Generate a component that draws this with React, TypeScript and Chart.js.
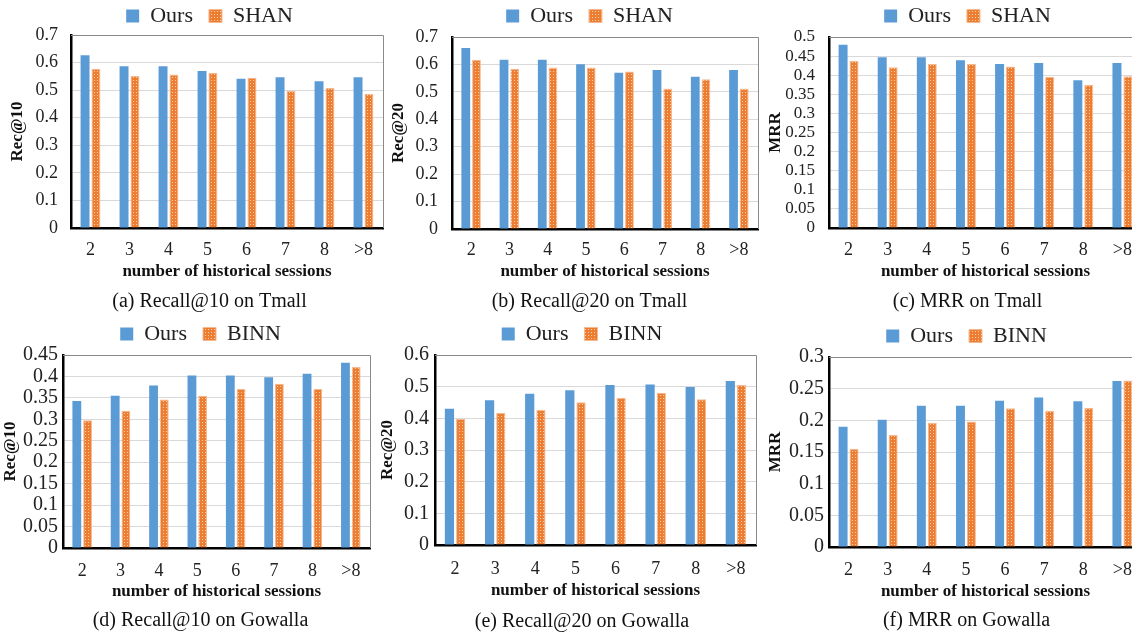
import React, { useEffect, useRef } from 'react';
import { Chart, registerables } from 'chart.js';

Chart.register(...registerables);
Chart.defaults.font.family = "'Liberation Serif', 'Times New Roman', serif";
Chart.defaults.color = '#222';

// ---- data ----
const categories = ['2', '3', '4', '5', '6', '7', '8', '>8'];
const xTitle = 'number of historical sessions';

const tmallRec10Ours = [0.627, 0.587, 0.587, 0.569, 0.541, 0.547, 0.532, 0.547];
const tmallRec10Shan = [0.578, 0.551, 0.557, 0.563, 0.545, 0.497, 0.508, 0.486];
const tmallRec20Ours = [0.66, 0.617, 0.617, 0.601, 0.57, 0.58, 0.555, 0.58];
const tmallRec20Shan = [0.617, 0.584, 0.589, 0.589, 0.574, 0.512, 0.546, 0.512];
const tmallMrrOurs = [0.48, 0.447, 0.447, 0.439, 0.429, 0.432, 0.387, 0.432];
const tmallMrrShan = [0.437, 0.421, 0.429, 0.429, 0.423, 0.395, 0.375, 0.397];
const gowallaRec10Ours = [0.343, 0.355, 0.379, 0.402, 0.402, 0.398, 0.406, 0.432];
const gowallaRec10Binn = [0.298, 0.32, 0.346, 0.355, 0.371, 0.383, 0.371, 0.422];
const gowallaRec20Ours = [0.43, 0.457, 0.478, 0.489, 0.505, 0.507, 0.499, 0.518];
const gowallaRec20Binn = [0.398, 0.417, 0.427, 0.451, 0.465, 0.481, 0.46, 0.505];
const gowallaMrrOurs = [0.19, 0.201, 0.223, 0.223, 0.231, 0.236, 0.23, 0.262];
const gowallaMrrBinn = [0.155, 0.177, 0.196, 0.198, 0.219, 0.215, 0.22, 0.263];

// ---- layout / panel settings ----
const panels = [
  { caption: '(a) Recall@10 on Tmall', yTitle: 'Rec@10', base: 'SHAN', ours: tmallRec10Ours, other: tmallRec10Shan, max: 0.7, step: 0.1,
    L: 0, T: -11, W: 419, top: 35, bottom: 226, xAxisH: 54.2, xTickPad: 11, capPad: 7.8, yAxisW: 71, yTitlePad: 7, yTickPad: 13, rightW: 36, yTickSize: 18 },
  { caption: '(b) Recall@20 on Tmall', yTitle: 'Rec@20', base: 'SHAN', ours: tmallRec20Ours, other: tmallRec20Shan, max: 0.7, step: 0.1,
    L: 381, T: -11, W: 417, top: 40, bottom: 227, xAxisH: 53.2, xTickPad: 10, capPad: 7.8, yAxisW: 71, yTitlePad: 7, yTickPad: 14, rightW: 40, yTickSize: 18 },
  { caption: '(c) MRR on Tmall', yTitle: 'MRR', base: 'SHAN', ours: tmallMrrOurs, other: tmallMrrShan, max: 0.5, step: 0.05,
    L: 758, T: -11, W: 419, top: 39, bottom: 226, xAxisH: 54.2, xTickPad: 11, capPad: 7.8, yAxisW: 71, yTitlePad: 7, yTickPad: 14, rightW: 35, yTickSize: 17 },
  { caption: '(d) Recall@10 on Gowalla', yTitle: 'Rec@10', base: 'BINN', ours: gowallaRec10Ours, other: gowallaRec10Binn, max: 0.45, step: 0.05,
    L: 0, T: 307, W: 401, top: 358, bottom: 546, xAxisH: 54.2, xTickPad: 12, capPad: 6.8, yAxisW: 63, yTitlePad: 0, yTickPad: 5, rightW: 31, yTickSize: 20 },
  { caption: '(e) Recall@20 on Gowalla', yTitle: 'Rec@20', base: 'BINN', ours: gowallaRec20Ours, other: gowallaRec20Binn, max: 0.6, step: 0.1,
    L: 377, T: 307, W: 410, top: 357, bottom: 543, xAxisH: 56.2, xTickPad: 13, capPad: 8.8, yAxisW: 58, yTitlePad: 0, yTickPad: 6, rightW: 31, yTickSize: 20 },
  { caption: '(f) MRR on Gowalla', yTitle: 'MRR', base: 'BINN', ours: gowallaMrrOurs, other: gowallaMrrBinn, max: 0.3, step: 0.05,
    L: 758, T: 309, W: 417, top: 358, bottom: 545, xAxisH: 55.2, xTickPad: 12, capPad: 6.8, yAxisW: 71, yTitlePad: 7, yTickPad: 5, rightW: 33, yTickSize: 20 },
];

function makePattern(): CanvasPattern | string {
  const c = document.createElement('canvas');
  c.width = 3;
  c.height = 3;
  const g = c.getContext('2d');
  if (!g) return '#ED7D31';
  g.fillStyle = '#ED7D31';
  g.fillRect(0, 0, 3, 3);
  g.fillStyle = '#F8CDB0';
  g.fillRect(1, 1, 1, 1);
  return g.createPattern(c, 'repeat') || '#ED7D31';
}

const framePlugin = {
  id: 'plotFrame',
  afterDatasetsDraw(chart: any) {
    const { ctx, chartArea: a } = chart;
    ctx.save();
    ctx.strokeStyle = '#8a8a8a';
    ctx.lineWidth = 1;
    ctx.beginPath();
    ctx.moveTo(a.left, Math.round(a.top) + 0.5);
    ctx.lineTo(Math.round(a.right) + 0.5, Math.round(a.top) + 0.5);
    ctx.lineTo(Math.round(a.right) + 0.5, a.bottom);
    ctx.stroke();
    ctx.restore();
  },
};

function Panel({ p }: { p: any }) {
  const ref = useRef<HTMLCanvasElement>(null);
  const H = Math.ceil(p.bottom - p.T + p.xAxisH + p.capPad + 24 + 2);
  useEffect(() => {
    if (!ref.current) return;
    const pattern = makePattern();
    const chart = new Chart(ref.current, {
      type: 'bar',
      data: {
        labels: categories,
        datasets: [
          { label: 'Ours', data: p.ours, backgroundColor: '#5B9BD5', borderWidth: 0, yAxisID: 'y', categoryPercentage: 0.56, barPercentage: 0.82 },
          { label: p.base, data: p.other, backgroundColor: pattern as any, borderColor: '#F5B88F', borderWidth: 1, yAxisID: 'y', categoryPercentage: 0.56, barPercentage: 0.82 },
        ],
      },
      options: {
        responsive: false,
        animation: false,
        layout: { padding: 0 },
        plugins: {
          legend: {
            position: 'top',
            maxHeight: p.top - p.T,
            labels: { font: { size: 22 }, color: '#222', boxWidth: 13, boxHeight: 13, padding: 16 },
          },
          title: {
            display: true,
            position: 'bottom',
            text: p.caption,
            font: { size: 20, weight: 'normal' },
            color: '#111',
            padding: { top: p.capPad, bottom: 0 },
          },
          tooltip: { enabled: false },
        },
        scales: {
          x: {
            grid: { display: false, drawTicks: false },
            border: { display: true, color: '#000', width: 2.5 },
            ticks: { font: { size: 18 }, color: '#222', padding: p.xTickPad },
            title: { display: true, text: xTitle, font: { size: 17, weight: 'bold' }, color: '#111', padding: 0 },
            afterFit: (s: any) => { s.height = p.xAxisH; },
          },
          y: {
            position: 'left',
            min: 0,
            max: p.max,
            ticks: {
              stepSize: p.step,
              autoSkip: false,
              font: { size: p.yTickSize, lineHeight: 0.8 },
              color: '#222',
              padding: p.yTickPad,
              callback: (v: any) => String(Number(Number(v).toFixed(2))),
            },
            grid: { color: '#D9D9D9', drawTicks: false, lineWidth: 1 },
            border: { display: true, color: '#000', width: 2.5 },
            title: { display: true, text: p.yTitle, font: { size: 17, weight: 'bold' }, color: '#111', padding: { top: p.yTitlePad, bottom: 0 } },
            afterFit: (s: any) => { s.width = p.yAxisW; },
          },
          yR: {
            position: 'right',
            display: true,
            grid: { display: false, drawTicks: false },
            border: { display: false },
            ticks: { display: false },
            afterFit: (s: any) => { s.width = p.rightW; },
          },
        },
      } as any,
      plugins: [framePlugin],
    });
    return () => chart.destroy();
  }, []);
  return (
    <canvas
      ref={ref}
      width={p.W}
      height={H}
      style={{ position: 'absolute', left: p.L, top: p.T, width: p.W, height: H }}
    />
  );
}

export default function App() {
  return (
    <div style={{ position: 'fixed', left: 0, top: 0, width: 1132, height: 634, overflow: 'hidden', background: '#fff' }}>
      {panels.map((p, i) => (
        <Panel key={i} p={p} />
      ))}
    </div>
  );
}
